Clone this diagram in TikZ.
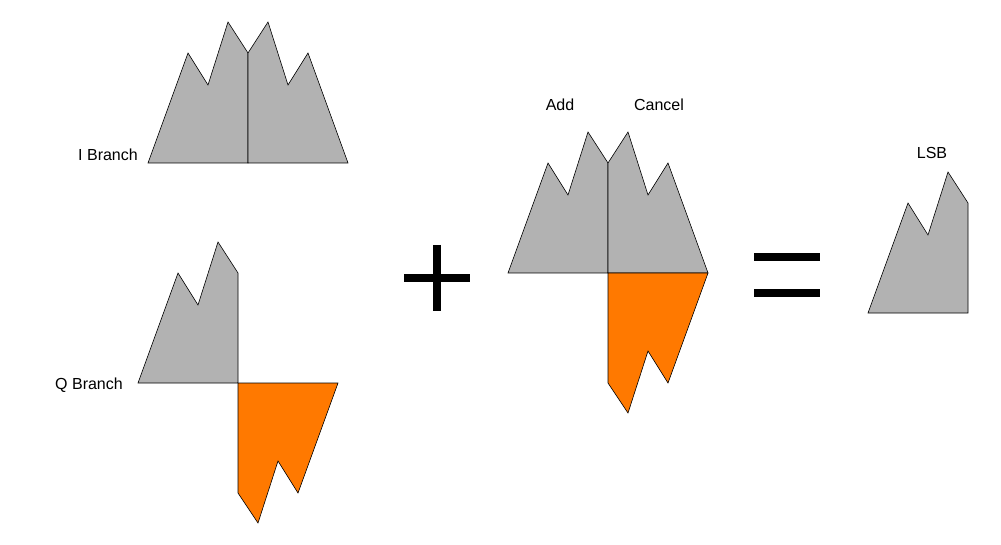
\documentclass[tikz,border=0pt]{standalone}
\usepackage{fontspec}
\setmainfont{Liberation Sans}
\begin{document}
\begin{tikzpicture}[x=1pt,y=-1pt,
  gr/.style={fill=black!30,draw=black,line width=0.6pt,line join=miter},
  orr/.style={fill=orange!95!red,draw=black,line width=0.6pt},
  lbl/.style={font=\fontsize{16}{18}\selectfont,inner sep=0pt},
  sym/.style={line width=8pt}]
\useasboundingbox (0,0) rectangle (1001,545);
% I branch
\draw[gr] (148,163)--(188,53)--(208,85)--(228,22)--(248,53)--(248,163)--cycle;
\draw[gr] (248,163)--(248,53)--(268,22)--(288,85)--(308,53)--(348,163)--cycle;
\node[lbl,anchor=east] (ib) at (138,155) {I Branch};
% Q branch
\draw[gr] (138,383)--(178,273)--(198,305)--(218,242)--(238,273)--(238,383)--cycle;
\draw[orr] (238,383)--(338,383)--(298,493)--(278,461)--(258,523)--(238,493)--cycle;
\node[lbl,anchor=east] (qb) at (123,385) {Q Branch};
% plus
\draw[sym] (404,278)--(470,278);
\draw[sym] (437,245)--(437,311);
% middle
\draw[gr] (508,273)--(548,163)--(568,195)--(588,132)--(608,163)--(608,273)--cycle;
\draw[gr] (608,273)--(608,163)--(628,132)--(648,195)--(668,163)--(708,273)--cycle;
\draw[orr] (608,273)--(708,273)--(668,383)--(648,351)--(628,413)--(608,383)--cycle;
\node[lbl] (add) at (560,105) {Add};
\node[lbl] (can) at (659,105) {Cancel};
% equals
\draw[sym] (754,257)--(820,257);
\draw[sym] (754,293)--(820,293);
% LSB
\draw[gr] (868,313)--(908,203)--(928,235)--(948,172)--(968,203)--(968,313)--cycle;
\node[lbl] (lsb) at (932,153) {LSB};
\end{tikzpicture}
\end{document}
